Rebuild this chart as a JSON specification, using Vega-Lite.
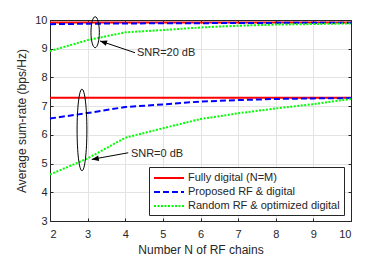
{
  "$schema": "https://vega.github.io/schema/vega-lite/v6.json",
  "width": 301,
  "height": 201,
  "autosize": {"type": "none"},
  "padding": {"left": 50, "top": 20, "right": 37, "bottom": 34},
  "background": "white",
  "config": {
    "font": "Liberation Sans",
    "view": {"stroke": "#262626", "strokeWidth": 1},
    "axis": {
      "labelFont": "Liberation Sans",
      "titleFont": "Liberation Sans",
      "labelFontSize": 11,
      "titleFontSize": 12,
      "titleFontWeight": "normal",
      "labelColor": "#262626",
      "titleColor": "#262626",
      "domainColor": "#262626",
      "tickColor": "#262626",
      "gridColor": "#e3e3e3",
      "tickSize": -3,
      "labelPadding": 6
    }
  },
  "datasets": {
    "curves": [
      {"n": 2, "s": "Fully digital (N=M)", "snr": "20", "v": 9.91},
      {"n": 3, "s": "Fully digital (N=M)", "snr": "20", "v": 9.91},
      {"n": 4, "s": "Fully digital (N=M)", "snr": "20", "v": 9.91},
      {"n": 5, "s": "Fully digital (N=M)", "snr": "20", "v": 9.91},
      {"n": 6, "s": "Fully digital (N=M)", "snr": "20", "v": 9.91},
      {"n": 7, "s": "Fully digital (N=M)", "snr": "20", "v": 9.91},
      {"n": 8, "s": "Fully digital (N=M)", "snr": "20", "v": 9.91},
      {"n": 9, "s": "Fully digital (N=M)", "snr": "20", "v": 9.91},
      {"n": 10, "s": "Fully digital (N=M)", "snr": "20", "v": 9.91},
      {"n": 2, "s": "Fully digital (N=M)", "snr": "0", "v": 7.29},
      {"n": 3, "s": "Fully digital (N=M)", "snr": "0", "v": 7.29},
      {"n": 4, "s": "Fully digital (N=M)", "snr": "0", "v": 7.29},
      {"n": 5, "s": "Fully digital (N=M)", "snr": "0", "v": 7.29},
      {"n": 6, "s": "Fully digital (N=M)", "snr": "0", "v": 7.29},
      {"n": 7, "s": "Fully digital (N=M)", "snr": "0", "v": 7.29},
      {"n": 8, "s": "Fully digital (N=M)", "snr": "0", "v": 7.29},
      {"n": 9, "s": "Fully digital (N=M)", "snr": "0", "v": 7.29},
      {"n": 10, "s": "Fully digital (N=M)", "snr": "0", "v": 7.29},
      {"n": 2, "s": "Proposed RF & digital", "snr": "20", "v": 9.855},
      {"n": 3, "s": "Proposed RF & digital", "snr": "20", "v": 9.87},
      {"n": 4, "s": "Proposed RF & digital", "snr": "20", "v": 9.88},
      {"n": 5, "s": "Proposed RF & digital", "snr": "20", "v": 9.885},
      {"n": 6, "s": "Proposed RF & digital", "snr": "20", "v": 9.89},
      {"n": 7, "s": "Proposed RF & digital", "snr": "20", "v": 9.895},
      {"n": 8, "s": "Proposed RF & digital", "snr": "20", "v": 9.9},
      {"n": 9, "s": "Proposed RF & digital", "snr": "20", "v": 9.9},
      {"n": 10, "s": "Proposed RF & digital", "snr": "20", "v": 9.905},
      {"n": 2, "s": "Proposed RF & digital", "snr": "0", "v": 6.57},
      {"n": 3, "s": "Proposed RF & digital", "snr": "0", "v": 6.76},
      {"n": 4, "s": "Proposed RF & digital", "snr": "0", "v": 6.97},
      {"n": 5, "s": "Proposed RF & digital", "snr": "0", "v": 7.06},
      {"n": 6, "s": "Proposed RF & digital", "snr": "0", "v": 7.16},
      {"n": 7, "s": "Proposed RF & digital", "snr": "0", "v": 7.21},
      {"n": 8, "s": "Proposed RF & digital", "snr": "0", "v": 7.25},
      {"n": 9, "s": "Proposed RF & digital", "snr": "0", "v": 7.27},
      {"n": 10, "s": "Proposed RF & digital", "snr": "0", "v": 7.28},
      {"n": 2, "s": "Random RF & optimized digital", "snr": "20", "v": 8.92},
      {"n": 3, "s": "Random RF & optimized digital", "snr": "20", "v": 9.3},
      {"n": 4, "s": "Random RF & optimized digital", "snr": "20", "v": 9.57},
      {"n": 5, "s": "Random RF & optimized digital", "snr": "20", "v": 9.65},
      {"n": 6, "s": "Random RF & optimized digital", "snr": "20", "v": 9.74},
      {"n": 7, "s": "Random RF & optimized digital", "snr": "20", "v": 9.8},
      {"n": 8, "s": "Random RF & optimized digital", "snr": "20", "v": 9.84},
      {"n": 9, "s": "Random RF & optimized digital", "snr": "20", "v": 9.86},
      {"n": 10, "s": "Random RF & optimized digital", "snr": "20", "v": 9.88},
      {"n": 2, "s": "Random RF & optimized digital", "snr": "0", "v": 4.62},
      {"n": 3, "s": "Random RF & optimized digital", "snr": "0", "v": 5.18},
      {"n": 4, "s": "Random RF & optimized digital", "snr": "0", "v": 5.9},
      {"n": 5, "s": "Random RF & optimized digital", "snr": "0", "v": 6.23},
      {"n": 6, "s": "Random RF & optimized digital", "snr": "0", "v": 6.55},
      {"n": 7, "s": "Random RF & optimized digital", "snr": "0", "v": 6.75},
      {"n": 8, "s": "Random RF & optimized digital", "snr": "0", "v": 6.92},
      {"n": 9, "s": "Random RF & optimized digital", "snr": "0", "v": 7.07},
      {"n": 10, "s": "Random RF & optimized digital", "snr": "0", "v": 7.25}
    ],
    "arrows": [
      {"a": "a20", "n": 4.26, "v": 8.86},
      {"a": "a20", "n": 3.33, "v": 9.27},
      {"a": "a0", "n": 4.08, "v": 5.376},
      {"a": "a0", "n": 3.11, "v": 5.146}
    ],
    "labels": [
      {"t": "SNR=20 dB", "n": 4.31, "v": 8.85},
      {"t": "SNR=0 dB", "n": 4.15, "v": 5.33}
    ]
  },
  "resolve": {"axis": {"x": "independent", "y": "independent"}},
  "layer": [
    {
      "data": {"name": "curves"},
      "mark": {"type": "line", "strokeWidth": 2},
      "encoding": {
        "x": {
          "field": "n", "type": "quantitative",
          "scale": {"domain": [2, 10], "nice": false},
          "axis": {"values": [2, 3, 4, 5, 6, 7, 8, 9, 10], "title": "Number N of RF chains", "titlePadding": 5, "labelPadding": 10}
        },
        "y": {
          "field": "v", "type": "quantitative",
          "scale": {"domain": [3, 10], "nice": false, "zero": false},
          "axis": {"values": [3, 4, 5, 6, 7, 8, 9, 10], "title": "Average sum-rate (bps/Hz)", "titlePadding": 6}
        },
        "color": {
          "field": "s", "type": "nominal",
          "scale": {
            "domain": ["Fully digital (N=M)", "Proposed RF & digital", "Random RF & optimized digital"],
            "range": ["#ff0000", "#0000ff", "#00ff00"]
          },
          "legend": {
            "title": null,
            "orient": "none",
            "legendX": 99,
            "legendY": 147,
            "symbolType": "M-2.5,0 L2.5,0",
            "symbolSize": 144,
            "symbolOffset": 9,
            "symbolStrokeWidth": 2,
            "labelFontSize": 11,
            "labelFont": "Liberation Sans",
            "labelColor": "#262626",
            "labelOffset": 12,
            "padding": 4,
            "rowPadding": 2,
            "strokeColor": "#262626",
            "fillColor": "white"
          }
        },
        "strokeDash": {
          "field": "s", "type": "nominal",
          "scale": {
            "domain": ["Fully digital (N=M)", "Proposed RF & digital", "Random RF & optimized digital"],
            "range": [[1, 0], [6, 3], [2, 1.5]]
          }
        },
        "detail": {"field": "snr"},
        "order": {"field": "n"}
      }
    },
    {
      "data": {"name": "labels"},
      "mark": {"type": "text", "align": "left", "baseline": "middle", "fontSize": 11, "font": "Liberation Sans", "color": "#262626"},
      "encoding": {
        "x": {"field": "n", "type": "quantitative", "axis": {"orient": "top", "labels": false, "title": null, "grid": false, "values": [2, 3, 4, 5, 6, 7, 8, 9, 10]}},
        "y": {"field": "v", "type": "quantitative", "axis": {"orient": "right", "labels": false, "title": null, "grid": false, "values": [3, 4, 5, 6, 7, 8, 9, 10]}},
        "text": {"field": "t"}
      }
    },
    {
      "data": {"name": "arrows"},
      "mark": {"type": "line", "color": "black", "strokeWidth": 1},
      "encoding": {
        "x": {"field": "n", "type": "quantitative", "axis": null},
        "y": {"field": "v", "type": "quantitative", "axis": null},
        "detail": {"field": "a"}
      }
    },
    {
      "data": {"values": [{"n": 3.33, "v": 9.27}]},
      "mark": {"type": "point", "shape": "M0,0 L-0.4,1 L0.4,1 Z", "size": 196, "filled": true, "color": "black", "opacity": 1, "angle": 288.5},
      "encoding": {
        "x": {"field": "n", "type": "quantitative", "axis": null},
        "y": {"field": "v", "type": "quantitative", "axis": null}
      }
    },
    {
      "data": {"values": [{"n": 3.11, "v": 5.146}]},
      "mark": {"type": "point", "shape": "M0,0 L-0.4,1 L0.4,1 Z", "size": 196, "filled": true, "color": "black", "opacity": 1, "angle": 259.8},
      "encoding": {
        "x": {"field": "n", "type": "quantitative", "axis": null},
        "y": {"field": "v", "type": "quantitative", "axis": null}
      }
    },
    {
      "data": {"values": [{"n": 3.2, "v": 9.575}]},
      "mark": {"type": "point", "shape": "M0,-1 A0.27,1 0 1,1 0,1 A0.27,1 0 1,1 0,-1 Z", "size": 961, "filled": false, "color": "black", "strokeWidth": 1, "opacity": 1, "clip": false},
      "encoding": {
        "x": {"field": "n", "type": "quantitative", "axis": null},
        "y": {"field": "v", "type": "quantitative", "axis": null}
      }
    },
    {
      "data": {"values": [{"n": 2.85, "v": 6.17}]},
      "mark": {"type": "point", "shape": "M0,-1 A0.12,1 0 1,1 0,1 A0.12,1 0 1,1 0,-1 Z", "size": 6659, "filled": false, "color": "black", "strokeWidth": 1, "opacity": 1, "clip": false},
      "encoding": {
        "x": {"field": "n", "type": "quantitative", "axis": null},
        "y": {"field": "v", "type": "quantitative", "axis": null}
      }
    }
  ]
}
